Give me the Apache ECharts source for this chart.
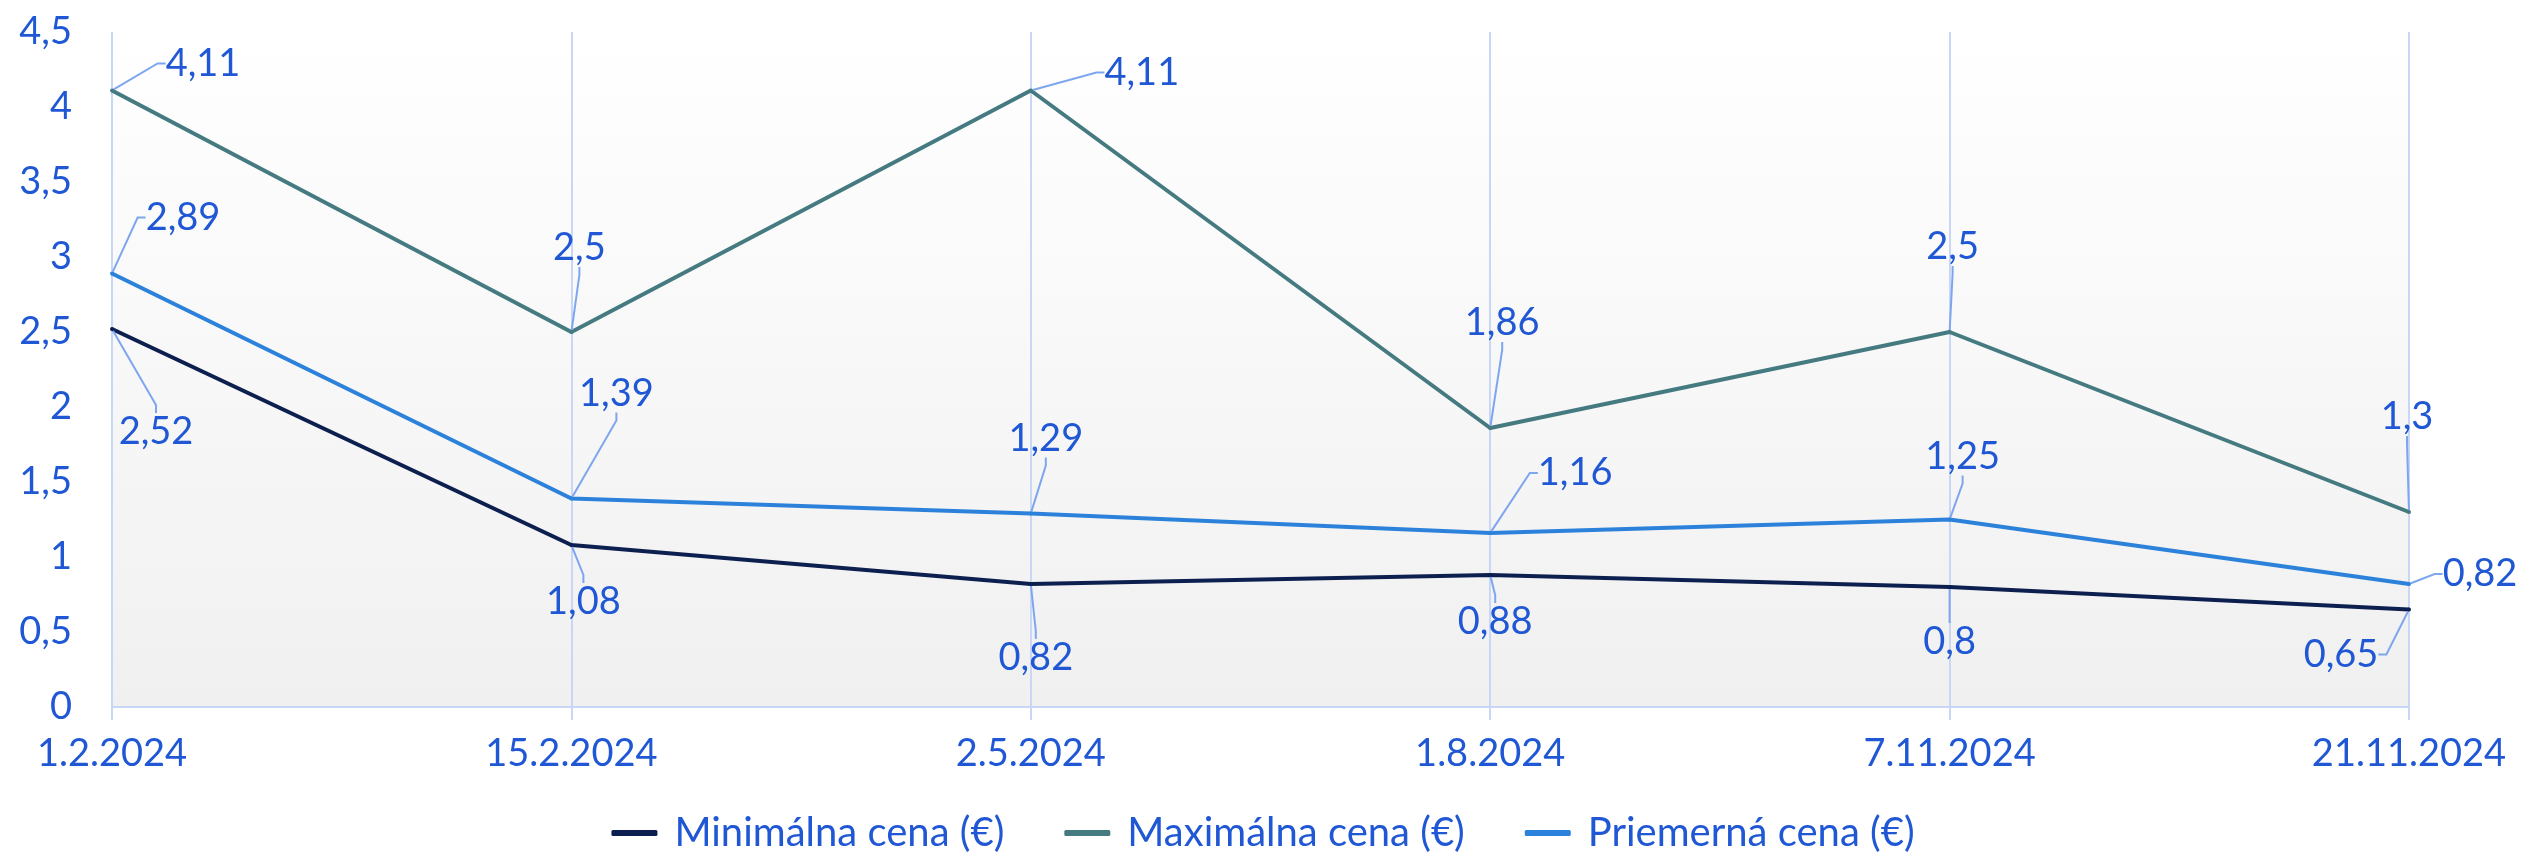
<!DOCTYPE html>
<html>
<head>
<meta charset="utf-8">
<script src="https://cdn.jsdelivr.net/npm/echarts@6/dist/echarts.min.js"></script>
<style>
  html, body { margin: 0; padding: 0; background: #fff; }
  #chart { width: 2526px; height: 856px; }
</style>
</head>
<body>
<div id="chart"></div>
<script>
const categories = ['1.2.2024', '15.2.2024', '2.5.2024', '1.8.2024', '7.11.2024', '21.11.2024']
const minPrice = [2.52, 1.08, 0.82, 0.88, 0.8, 0.65]
const maxPrice = [4.11, 2.5, 4.11, 1.86, 2.5, 1.3]
const avgPrice = [2.89, 1.39, 1.29, 1.16, 1.25, 0.82]
const seriesNames = ['Minimálna cena (€)', 'Maximálna cena (€)', 'Priemerná cena (€)']

// posun popiskov od bodu (dx, dy) – ako v pôvodnom grafe
const labelShift = [
  [[44, 103], [12, 57], [5, 74], [5, 47], [0, 55], [-68, 45]],
  [[91, -27], [8, -84], [111, -18], [12, -105], [3, -85], [-2, -95]],
  [[71, -56], [45, -105], [15, -75], [85, -60], [13, -63], [71, -10]]
]

const textColor = '#1f57d4'
const gridColor = '#c9d7f6'
const font = 'Lato'
const comma = v => String(v).replace('.', ',')

const makeSeries = (name, data, color, idx) => ({
  name,
  type: 'line',
  data,
  symbol: 'circle',
  symbolSize: 4,
  showSymbol: true,
  lineStyle: { color, width: 4 },
  itemStyle: { color },
  z: 3 + idx,
  label: {
    show: true,
    position: 'inside',
    align: 'center',
    verticalAlign: 'middle',
    color: textColor,
    fontFamily: font,
    fontSize: 38,
    formatter: p => comma(p.value)
  },
  labelLine: {
    show: true,
    length2: 8,
    lineStyle: { color: '#7ea6ef', width: 2 }
  },
  labelLayout: p => ({
    dx: labelShift[idx][p.dataIndex][0],
    dy: labelShift[idx][p.dataIndex][1]
  })
})

const chart = echarts.init(document.getElementById('chart'))
chart.setOption({
  backgroundColor: '#ffffff',
  animation: false,
  textStyle: { fontFamily: font },
  grid: {
    left: 112,
    right: 117,
    top: 32,
    bottom: 149,
    show: true,
    borderWidth: 0,
    backgroundColor: new echarts.graphic.LinearGradient(0, 0, 0, 1, [
      { offset: 0, color: '#ffffff' },
      { offset: 1, color: '#f0f0f0' }
    ])
  },
  legend: {
    bottom: -2,
    left: 'center',
    icon: 'roundRect',
    itemWidth: 46,
    itemHeight: 6,
    itemGap: 60,
    textStyle: { color: textColor, fontFamily: font, fontSize: 40, padding: [0, 0, 0, 12] },
    data: seriesNames
  },
  xAxis: {
    type: 'category',
    data: categories,
    boundaryGap: false,
    axisLine: { show: true, lineStyle: { color: gridColor, width: 2 } },
    axisTick: { show: true, length: 13, lineStyle: { color: gridColor, width: 2 } },
    splitLine: { show: true, lineStyle: { color: gridColor, width: 2 } },
    axisLabel: {
      color: textColor,
      fontFamily: font,
      fontSize: 38,
      margin: 28
    }
  },
  yAxis: {
    type: 'value',
    min: 0,
    max: 4.5,
    interval: 0.5,
    axisLine: { show: false },
    axisTick: { show: false },
    splitLine: { show: false },
    axisLabel: {
      color: textColor,
      fontFamily: font,
      fontSize: 38,
      margin: 40,
      formatter: v => comma(v)
    }
  },
  series: [
    makeSeries(seriesNames[0], minPrice, '#0c1f4e', 0),
    makeSeries(seriesNames[1], maxPrice, '#457b80', 1),
    makeSeries(seriesNames[2], avgPrice, '#2c82da', 2)
  ]
})
</script>
</body>
</html>
